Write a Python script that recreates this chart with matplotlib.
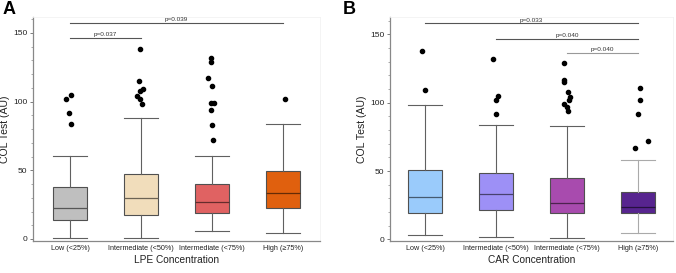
import matplotlib
matplotlib.use("Agg")
import matplotlib.pyplot as plt
import matplotlib.colors as mcolors
import numpy as np

plt.rcParams['font.family'] = ['Liberation Sans', 'DejaVu Sans']

categories = ["Low (<25%)", "Intermediate (<50%)", "Intermediate (<75%)", "High (\u226575%)"]

# Panel A (LPE): whislo, q1, median, q3, whishi
lpe_whislo = [1.0, 0.5, 5.6, 4.6]
lpe_q1 = [13.8, 17.7, 18.9, 22.6]
lpe_med = [22.3, 29.6, 26.9, 33.7]
lpe_q3 = [37.6, 47.1, 39.8, 49.7]
lpe_whishi = [60.6, 87.8, 60.6, 83.7]
lpe_outliers = [
    [105, 102, 92, 84],
    [138, 115, 109, 108, 104, 102, 98],
    [132, 129, 117, 111, 99, 99, 94, 83, 72],
    [102],
]
lpe_colors = ["#BFBFBF", "#F1DDBB", "#E06262", "#E0600E"]
lpe_pvals = [(0, 1, 146.4, "p=0.037"), (0, 3, 157.2, "p=0.039")]

# Panel B (CAR)
car_whislo = [2.9, 1.7, 0.7, 4.6]
car_q1 = [19.0, 21.2, 19.0, 19.0]
car_med = [31.4, 32.9, 26.8, 23.9]
car_q3 = [50.9, 48.3, 44.6, 34.8]
car_whishi = [98.5, 83.6, 82.7, 57.8]
car_outliers = [
    [138, 109],
    [132, 105, 102, 92],
    [129, 117, 115, 108, 104, 102, 99, 97, 94],
    [111, 102, 92, 72, 67],
]
car_colors = ["#9ACBFB", "#9D90F6", "#A84BAE", "#57248F"]
car_pvals = [(0, 3, 158.1, "p=0.033"), (1, 3, 147.0, "p=0.040"), (2, 3, 136.5, "p=0.040")]

# small horizontal dodge of outlier dots (style)
lpe_dodge = [[0.02, -0.05, -0.02, 0.02],
             [-0.02, -0.03, 0.02, -0.02, -0.06, -0.02, 0.01],
             [-0.02, -0.02, -0.06, 0.0, -0.02, 0.03, -0.02, 0.0, 0.01],
             [0.03]]
car_dodge = [[-0.05, 0.0],
             [-0.05, 0.03, 0.0, 0.0],
             [-0.04, -0.04, -0.04, 0.01, 0.04, 0.03, -0.04, 0.0, 0.01],
             [0.03, 0.02, 0.0, 0.14, -0.04]]


def darker(c, f=0.5):
    r, g, b = mcolors.to_rgb(c)
    return (r * f, g * f, b * f)


def panel(ax, whislo, q1, med, q3, whishi, outl, colors, dodge, pvals, xlabel,
          xlim, ylim, whisk_colors, pval_colors):
    stats = []
    for i in range(len(categories)):
        stats.append(dict(whislo=whislo[i], q1=q1[i], med=med[i], q3=q3[i],
                          whishi=whishi[i], fliers=[]))
    pos = np.arange(len(categories))
    bp = ax.bxp(stats, positions=pos, widths=0.48, patch_artist=True,
                showfliers=False, manage_ticks=False)
    for i, b in enumerate(bp['boxes']):
        b.set_facecolor(colors[i])
        b.set_edgecolor('#505050')
        b.set_linewidth(0.8)
    for i, m in enumerate(bp['medians']):
        m.set_color(darker(colors[i], 0.45))
        m.set_linewidth(0.9)
    for i in range(len(categories)):
        for k in (2 * i, 2 * i + 1):
            bp['whiskers'][k].set_color(whisk_colors[i])
            bp['whiskers'][k].set_linewidth(0.8)
            bp['caps'][k].set_color(whisk_colors[i])
            bp['caps'][k].set_linewidth(0.8)
            bp['caps'][k].set_xdata([pos[i] - 0.24, pos[i] + 0.24])
    for i in range(len(categories)):
        xs = pos[i] + np.array(dodge[i])
        ax.plot(xs, outl[i], 'o', color='black', markersize=3.0, zorder=4)
    for j, (a, b, y, t) in enumerate(pvals):
        ax.plot([a, b], [y, y], color=pval_colors[j], lw=0.8)
        ax.text((a + b) / 2, y + 0.6, t, ha='center', va='bottom', fontsize=4.6,
                color='#333333')
    ax.set_xlim(*xlim)
    ax.set_ylim(*ylim)
    ax.set_xticks(pos)
    ax.set_xticklabels(categories, fontsize=5.2, color='#222222')
    ax.set_yticks([0, 50, 100, 150])
    ax.set_yticks(np.arange(0, 161, 10), minor=True)
    ax.tick_params(axis='y', labelsize=6.0, colors='#222222', length=2.5, width=0.6,
                   color='#666666', pad=1.5)
    ax.tick_params(axis='y', which='minor', length=1.6, width=0.5, color='#888888')
    ax.tick_params(axis='x', length=0, pad=3)
    for s in ('top', 'right'):
        ax.spines[s].set_color('#f2f2f2')
        ax.spines[s].set_linewidth(0.6)
    for s in ('left', 'bottom'):
        ax.spines[s].set_color('#888888')
        ax.spines[s].set_linewidth(0.9)
    ax.set_ylabel("COL Test (AU)", fontsize=7.6, color='#222222', labelpad=2)
    ax.set_xlabel(xlabel, fontsize=7.3, color='#222222', labelpad=2)


fig = plt.figure(figsize=(6.76, 2.73), dpi=100)
axA = fig.add_axes([0.0488, 0.117, 0.425, 0.821])
axB = fig.add_axes([0.5765, 0.118, 0.419, 0.820])

panel(axA, lpe_whislo, lpe_q1, lpe_med, lpe_q3, lpe_whishi, lpe_outliers, lpe_colors,
      lpe_dodge, lpe_pvals, "LPE Concentration", (-0.52, 3.52), (-1.5, 161.6),
      ['#606060'] * 4, ['#555555', '#555555'])
panel(axB, car_whislo, car_q1, car_med, car_q3, car_whishi, car_outliers, car_colors,
      car_dodge, car_pvals, "CAR Concentration", (-0.5, 3.49), (-1.0, 162.8),
      ['#606060'] * 3 + ['#aaaaaa'], ['#555555', '#555555', '#999999'])

fig.text(0.004, 0.995, "A", fontsize=13, fontweight='bold', va='top', ha='left')
fig.text(0.507, 0.995, "B", fontsize=13, fontweight='bold', va='top', ha='left')

fig.savefig("out.png", dpi=100)
